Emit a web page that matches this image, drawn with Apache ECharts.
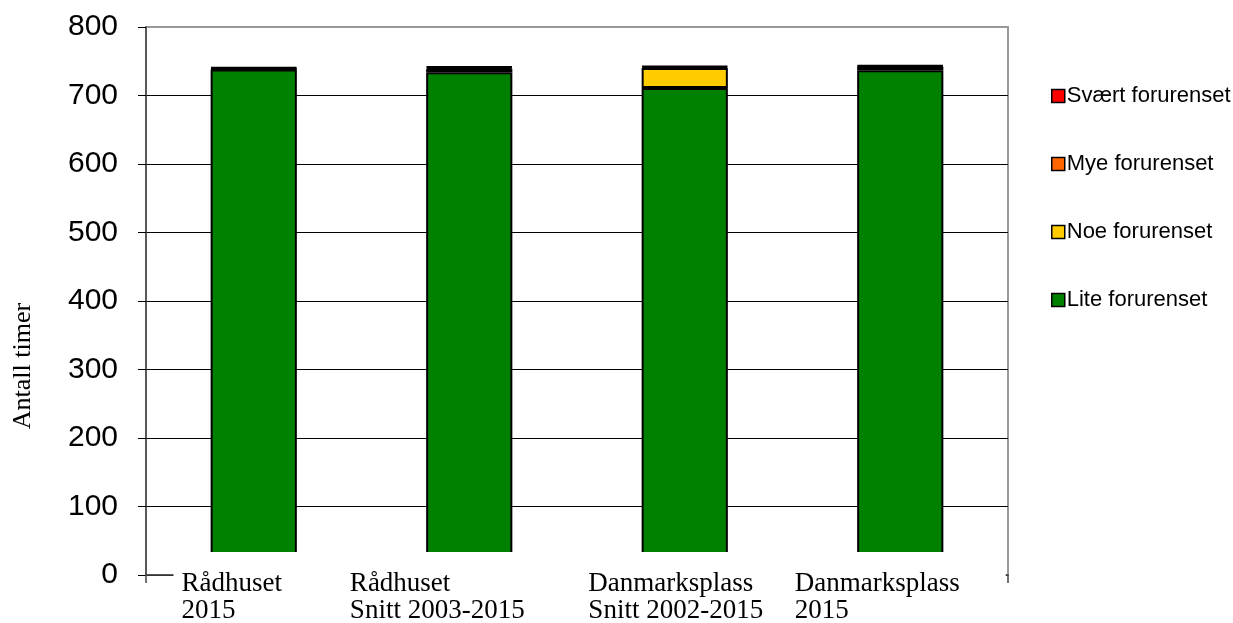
<!DOCTYPE html>
<html>
<head>
<meta charset="utf-8">
<script src="https://cdn.jsdelivr.net/npm/echarts@6/dist/echarts.min.js"></script>
<style>html,body{margin:0;padding:0;background:#fff;}#c{width:1233px;height:623px;}</style>
</head>
<body>
<div id="c"></div>
<script>
const categories = ['Rådhuset\n2015', 'Rådhuset\nSnitt 2003-2015', 'Danmarksplass\nSnitt 2002-2015', 'Danmarksplass\n2015'];
const lite = [738, 734, 711, 737];
const noe = [1, 5, 29, 5];
const mye = [1, 2, 2, 1];
const svaert = [1, 1, 1, 1];
const yTicks = [0, 100, 200, 300, 400, 500, 600, 700, 800];

// label box paddings (style only): [top, right, bottom, left]
const labelPads = [[18, 52, 4, 8], [18, 81, 4, 17], [18, 33, 4, 15], [18, 46, 4, 0]];

const chart = echarts.init(document.getElementById('c'));
const serif = 'Liberation Serif, Times New Roman, serif';
const sans = 'Liberation Sans, Arial, sans-serif';
function bar(name, data, color) {
  return {
    name: name, type: 'bar', stack: 'total', data: data, barWidth: '40%',
    itemStyle: { color: color, borderColor: '#000', borderWidth: 2 }
  };
}
chart.setOption({
  animation: false,
  grid: { left: 146, right: 225, top: 27, bottom: 48, outerBoundsMode: 'none', containLabel: false,
          show: true, borderColor: '#999', borderWidth: 2, backgroundColor: 'transparent' },
  legend: {
    orient: 'vertical', left: 1046, top: 80, itemGap: 46, itemWidth: 13, itemHeight: 13,
    icon: 'rect',
    data: ['Svært forurenset', 'Mye forurenset', 'Noe forurenset', 'Lite forurenset'],
    textStyle: { fontFamily: sans, fontSize: 22, color: '#000', padding: [0, 0, 0, -3] },
    itemStyle: { borderColor: '#000', borderWidth: 1.5 }
  },
  xAxis: {
    type: 'category', z: 10,
    data: categories.map((c, i) => ({ value: c, textStyle: { padding: labelPads[i] } })),
    axisLine: { lineStyle: { color: '#444', width: 1.5 } },
    axisTick: { show: true, length: 8, interval: (idx) => idx === 0, lineStyle: { color: '#444', width: 1.5 } },
    axisLabel: {
      interval: 0, margin: -23, color: '#000', fontFamily: serif, fontSize: 27, lineHeight: 27,
      align: 'center', backgroundColor: '#fff',
      formatter: v => v.split('\n').map(s => '{a|' + s + '}').join('\n'),
      rich: { a: { align: 'left', fontFamily: serif, fontSize: 27, lineHeight: 27, color: '#000' } }
    }
  },
  yAxis: {
    type: 'value', min: yTicks[0], max: yTicks[yTicks.length - 1], interval: 100,
    name: 'Antall timer', nameLocation: 'middle', nameGap: 110, nameRotate: 90,
    nameTextStyle: { fontFamily: serif, fontSize: 26, color: '#000', padding: [0, 130, 0, 0] },
    axisLine: { show: true, lineStyle: { color: '#444', width: 1.5 } },
    axisTick: { show: true, length: 8, lineStyle: { color: '#000', width: 1 } },
    axisLabel: { margin: 28, fontFamily: sans, fontSize: 30, color: '#000', formatter: v => String(v) },
    splitLine: { show: true, lineStyle: { color: ['#000', '#000', '#000', '#000', '#000', '#000', '#000', '#000', '#999'], width: 1 } }
  },
  series: [
    bar('Lite forurenset', lite, '#008000'),
    bar('Noe forurenset', noe, '#FFCC00'),
    bar('Mye forurenset', mye, '#FF6600'),
    bar('Svært forurenset', svaert, '#FF0000')
  ]
});
</script>
</body>
</html>
